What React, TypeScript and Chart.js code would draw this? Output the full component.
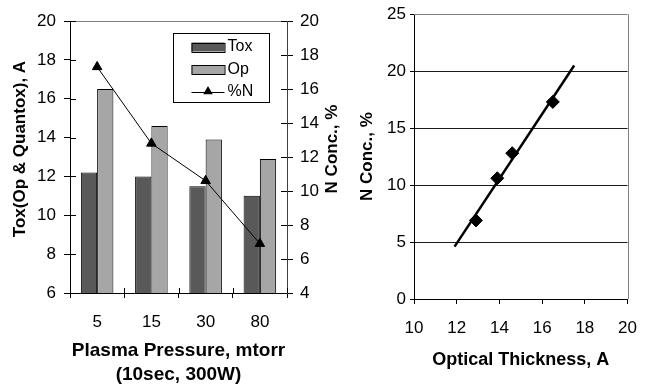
import React, { useEffect, useRef } from 'react';
import { Chart, registerables } from 'chart.js';

Chart.register(...registerables);

// ---- Data ----
const pressureLabels = ['5', '15', '30', '80'];
const toxValues = [12.2, 12.0, 11.5, 11.0];
const opValues = [16.5, 14.6, 13.9, 12.9];
const nConcValues = [17.3, 12.8, 10.6, 6.9];

const opticalThickness = [12.9, 13.9, 14.6, 16.5];
const nConcScatter = [6.9, 10.6, 12.8, 17.3];
const trendX = [11.9, 17.5];
const trendY = [4.6, 20.5];

const leftTitle = 'Tox(Op & Quantox), A';
const rightAxisTitle = 'N Conc., %';

const FONT = "'Liberation Sans', Arial, Helvetica, sans-serif";

const leftDecor = {
  id: 'leftDecor',
  afterDraw(chart: any) {
    const { ctx, chartArea: a, scales } = chart;
    ctx.save();
    // top frame line
    ctx.strokeStyle = '#808080';
    ctx.lineWidth = 1;
    ctx.beginPath();
    ctx.moveTo(a.left, Math.round(a.top) + 0.5);
    ctx.lineTo(a.right, Math.round(a.top) + 0.5);
    ctx.stroke();
    // inner halves of tick marks
    ctx.strokeStyle = '#000';
    ctx.beginPath();
    scales.y.ticks.forEach((_t: any, i: number) => {
      const py = Math.round(scales.y.getPixelForTick(i)) + 0.5;
      ctx.moveTo(a.left, py);
      ctx.lineTo(a.left + 6, py);
    });
    scales.y1.ticks.forEach((_t: any, i: number) => {
      const py = Math.round(scales.y1.getPixelForTick(i)) + 0.5;
      ctx.moveTo(a.right, py);
      ctx.lineTo(a.right - 6, py);
    });
    const n = scales.x.ticks.length;
    const step = n > 1 ? scales.x.getPixelForTick(1) - scales.x.getPixelForTick(0) : 0;
    for (let i = 0; i <= n; i++) {
      const px = Math.round(scales.x.getPixelForTick(0) - step / 2 + i * step) + 0.5;
      ctx.moveTo(px, a.bottom);
      ctx.lineTo(px, a.bottom - 5);
    }
    ctx.stroke();

    // axis titles (both read bottom-to-top, as in the reference)
    const cy = (a.top + a.bottom) / 2 - 8;
    ctx.fillStyle = '#000';
    ctx.font = `bold 17px ${FONT}`;
    ctx.textAlign = 'center';
    ctx.textBaseline = 'middle';
    [[20, leftTitle], [332, rightAxisTitle]].forEach(([x, t]: any) => {
      ctx.save();
      ctx.translate(x, cy);
      ctx.rotate(-Math.PI / 2);
      ctx.fillText(t, 0, 0);
      ctx.restore();
    });

    // legend box
    const lx = Math.round(a.right - 18 - 96) + 0.5;
    const ly = Math.round(a.top + 12) + 0.5;
    const lw = 96;
    const lh = 69;
    ctx.fillStyle = '#fff';
    ctx.fillRect(lx, ly, lw, lh);
    ctx.strokeStyle = '#000';
    ctx.strokeRect(lx, ly, lw, lh);
    const ds = chart.data.datasets;
    const rows = [13.5, 36, 58];
    ctx.font = `16px ${FONT}`;
    ctx.textBaseline = 'middle';
    ctx.textAlign = 'left';
    ds.forEach((d: any, i: number) => {
      const ry = ly + rows[i];
      const sx = lx + 18;
      if (d.type === 'line') {
        ctx.strokeStyle = d.borderColor;
        ctx.lineWidth = 1;
        ctx.beginPath();
        ctx.moveTo(sx, Math.round(ry) + 0.5);
        ctx.lineTo(sx + 33, Math.round(ry) + 0.5);
        ctx.stroke();
        const cx = sx + 16.5;
        const r = 5.5;
        ctx.fillStyle = d.pointBackgroundColor;
        ctx.beginPath();
        ctx.moveTo(cx, ry - r);
        ctx.lineTo(cx + r * 0.866, ry + r * 0.5);
        ctx.lineTo(cx - r * 0.866, ry + r * 0.5);
        ctx.closePath();
        ctx.fill();
      } else {
        ctx.fillStyle = d.backgroundColor;
        ctx.fillRect(sx, ry - 4.5, 33, 9);
        ctx.strokeStyle = '#000';
        ctx.lineWidth = 1;
        ctx.strokeRect(sx + 0.5, Math.round(ry - 4.5) + 0.5, 33, 9);
      }
      ctx.fillStyle = '#000';
      ctx.fillText(d.label, sx + 36, ry);
    });
    ctx.restore();
  },
};

const rightDecor = {
  id: 'rightDecor',
  afterDraw(chart: any) {
    const { ctx, chartArea: a } = chart;
    ctx.save();
    ctx.strokeStyle = '#808080';
    ctx.lineWidth = 1;
    ctx.beginPath();
    ctx.moveTo(a.left, Math.round(a.top) + 0.5);
    ctx.lineTo(a.right, Math.round(a.top) + 0.5);
    ctx.moveTo(Math.round(a.right) + 0.5, a.top);
    ctx.lineTo(Math.round(a.right) + 0.5, a.bottom);
    ctx.stroke();
    ctx.restore();
  },
};

export default function App() {
  const leftRef = useRef<HTMLCanvasElement>(null);
  const rightRef = useRef<HTMLCanvasElement>(null);

  useEffect(() => {
    const tickFont = { family: FONT, size: 17 };
    const left = new Chart(leftRef.current as HTMLCanvasElement, {
      type: 'bar',
      data: {
        labels: pressureLabels,
        datasets: [
          {
            type: 'bar',
            label: 'Tox',
            data: toxValues,
            backgroundColor: '#595959',
            borderColor: '#000',
            borderWidth: 1,
            yAxisID: 'y',
            categoryPercentage: 0.6,
            barPercentage: 1,
            order: 2,
          } as any,
          {
            type: 'bar',
            label: 'Op',
            data: opValues,
            backgroundColor: '#a6a6a6',
            borderColor: '#000',
            borderWidth: 1,
            yAxisID: 'y',
            categoryPercentage: 0.6,
            barPercentage: 1,
            order: 2,
          } as any,
          {
            type: 'line',
            label: '%N',
            data: nConcValues,
            yAxisID: 'y1',
            borderColor: '#000',
            borderWidth: 1,
            pointStyle: 'triangle',
            pointRadius: 5.5,
            pointBackgroundColor: '#000',
            pointBorderColor: '#000',
            pointBorderWidth: 1,
            order: 1,
          } as any,
        ],
      },
      options: {
        animation: false,
        responsive: false,
        maintainAspectRatio: false,
        layout: { padding: { top: 21, left: 0, right: 0, bottom: 0 } },
        plugins: { legend: { display: false }, tooltip: { enabled: false } },
        scales: {
          x: {
            grid: { display: true, drawOnChartArea: false, offset: true, tickLength: 5, color: '#000' },
            border: { color: '#000' },
            ticks: { font: tickFont, color: '#000', padding: 14 },
            title: {
              display: true,
              text: ['Plasma Pressure, mtorr', '(10sec, 300W)'],
              color: '#000',
              font: { family: FONT, size: 19, weight: 'bold', lineHeight: 1.27 },
              padding: { top: 0, bottom: 3 },
            },
            afterFit: (s: any) => { s.height = 97; },
          },
          y: {
            position: 'left',
            min: 6,
            max: 20,
            ticks: { stepSize: 2, font: tickFont, color: '#000', padding: 8 },
            grid: { drawOnChartArea: false, tickLength: 6, color: '#000' },
            border: { color: '#000' },
            title: { display: false },
            afterFit: (s: any) => { s.width = 70; },
          },
          y1: {
            position: 'right',
            min: 4,
            max: 20,
            ticks: { stepSize: 2, font: tickFont, color: '#000', padding: 7 },
            grid: { drawOnChartArea: false, tickLength: 6, color: '#000' },
            border: { color: '#404040' },
            title: { display: false },
            afterFit: (s: any) => { s.width = 58; },
          },
        },
      } as any,
      plugins: [leftDecor],
    });

    const right = new Chart(rightRef.current as HTMLCanvasElement, {
      type: 'scatter',
      data: {
        datasets: [
          {
            label: 'N Conc., %',
            data: opticalThickness.map((x, i) => ({ x, y: nConcScatter[i] })),
            pointStyle: 'rectRot',
            pointRadius: 6.5,
            backgroundColor: '#000',
            borderColor: '#000',
            borderWidth: 1,
            showLine: false,
          } as any,
          {
            label: 'Trend',
            data: trendX.map((x, i) => ({ x, y: trendY[i] })),
            showLine: true,
            borderColor: '#000',
            borderWidth: 2.5,
            pointRadius: 0,
          } as any,
        ],
      },
      options: {
        animation: false,
        responsive: false,
        maintainAspectRatio: false,
        layout: { padding: { top: 14, left: 0, right: 23, bottom: 0 } },
        plugins: { legend: { display: false }, tooltip: { enabled: false } },
        scales: {
          x: {
            type: 'linear',
            min: 10,
            max: 20,
            ticks: { stepSize: 2, font: tickFont, color: '#000', padding: 14 },
            grid: { drawOnChartArea: false, tickLength: 5, color: '#000' },
            border: { color: '#000' },
            title: {
              display: true,
              text: 'Optical Thickness, A',
              color: '#000',
              font: { family: FONT, size: 18, weight: 'bold' },
              padding: { top: 0, bottom: 19 },
            },
            afterFit: (s: any) => { s.height = 91; },
          },
          y: {
            min: 0,
            max: 25,
            ticks: { stepSize: 5, font: tickFont, color: '#000', padding: 4 },
            grid: {
              tickLength: 4,
              tickColor: '#000',
              color: (c: any) => (c.tick && (c.tick.value === 0 || c.tick.value === 25) ? 'rgba(0,0,0,0)' : '#1a1a1a'),
            },
            border: { color: '#000' },
            title: {
              display: true,
              text: 'N Conc., %',
              color: '#000',
              font: { family: FONT, size: 17, weight: 'bold' },
              padding: { top: 17, bottom: 0 },
            },
            afterFit: (s: any) => { s.width = 74; },
          },
        },
      } as any,
      plugins: [rightDecor],
    });

    return () => {
      left.destroy();
      right.destroy();
    };
  }, []);

  return (
    <div style={{ position: 'fixed', left: 0, top: 0, width: 651, height: 390, background: '#fff', overflow: 'hidden' }}>
      <canvas
        ref={leftRef}
        width={345}
        height={390}
        style={{ position: 'absolute', left: 0, top: 0, width: 345, height: 390 }}
      />
      <canvas
        ref={rightRef}
        width={311}
        height={390}
        style={{ position: 'absolute', left: 340, top: 0, width: 311, height: 390 }}
      />
    </div>
  );
}
